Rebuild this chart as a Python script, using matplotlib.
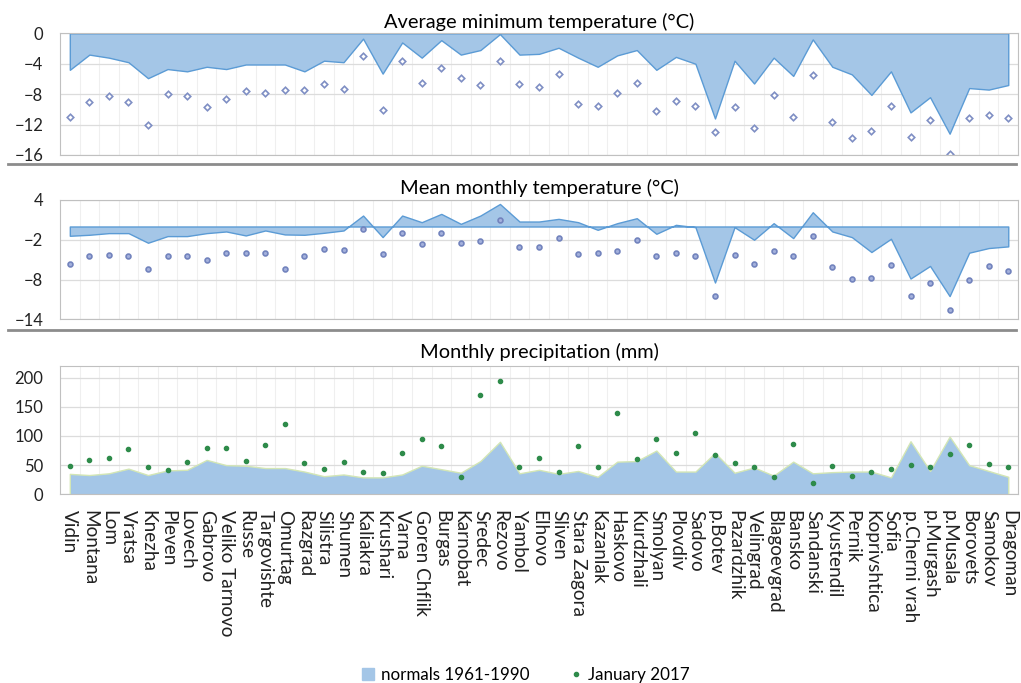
import matplotlib.pyplot as plt
import matplotlib.lines as mlines
import matplotlib.patches as mpatches
import numpy as np

plt.rcParams['font.family'] = ['Lato', 'DejaVu Sans']

stations = ['Vidin', 'Montana', 'Lom', 'Vratsa', 'Knezha', 'Pleven', 'Lovech', 'Gabrovo',
            'Veliko Tarnovo', 'Russe', 'Targovishte', 'Omurtag', 'Razgrad', 'Silistra', 'Shumen',
            'Kaliakra', 'Krushari', 'Varna', 'Goren Chflik', 'Burgas', 'Karnobat', 'Sredec',
            'Rezovo', 'Yambol', 'Elhovo', 'Sliven', 'Stara Zagora', 'Kazanlak', 'Haskovo',
            'Kurdzhali', 'Smolyan', 'Plovdiv', 'Sadovo', 'p.Botev', 'Pazardzhik', 'Velingrad',
            'Blagoevgrad', 'Bansko', 'Sandanski', 'Kyustendil', 'Pernik', 'Koprivshtica', 'Sofia',
            'p.Cherni vrah', 'p.Murgash', 'p.Musala', 'Borovets', 'Samokov', 'Dragoman']

# average minimum temperature
tmin_norm = [-4.8, -2.8, -3.2, -3.8, -5.9, -4.7, -5.0, -4.4, -4.7, -4.1, -4.1, -4.1, -5.0,
             -3.6, -3.8, -0.7, -5.3, -1.2, -3.2, -0.9, -2.8, -2.2, -0.1, -2.8, -2.7, -1.9,
             -3.2, -4.4, -2.9, -2.2, -4.8, -3.1, -4.0, -11.2, -3.6, -6.6, -3.2, -5.6, -0.8,
             -4.4, -5.4, -8.1, -5.0, -10.4, -8.4, -13.2, -7.2, -7.4, -6.8]
tmin_2017 = [-11.0, -9.0, -8.2, -9.0, -12.0, -8.0, -8.2, -9.7, -8.6, -7.6, -7.9, -7.4, -7.5,
             -6.7, -7.3, -3.0, -10.1, -3.6, -6.5, -4.5, -5.9, -6.8, -3.7, -6.7, -7.0, -5.3,
             -9.3, -9.6, -7.9, -6.5, -10.2, -8.9, -9.5, -13.0, -9.7, -12.4, -8.1, -11.0, -5.5,
             -11.7, -13.8, -12.8, -9.6, -13.6, -11.4, -15.9, -11.1, -10.7, -11.2]

# mean monthly temperature
tmean_norm = [-1.4, -1.25, -1.0, -1.0, -2.45, -1.45, -1.45, -1.0, -0.75, -1.35, -0.6, -1.2,
              -1.25, -0.95, -0.6, 1.65, -1.6, 1.65, 0.65, 1.9, 0.4, 1.65, 3.4, 0.75, 0.75,
              1.15, 0.65, -0.5, 0.5, 1.25, -1.1, 0.25, -0.1, -8.45, -0.1, -2.0, 0.5, -1.75,
              2.15, -0.75, -1.6, -3.85, -1.85, -7.85, -5.95, -10.5, -3.95, -3.25, -3.0]
tmean_2017 = [-5.6, -4.5, -4.35, -4.5, -6.35, -4.5, -4.5, -5.1, -4.0, -4.0, -4.0, -6.35, -4.5,
              -3.35, -3.5, -0.45, -4.2, -1.0, -2.7, -0.95, -2.45, -2.25, 1.0, -3.1, -3.1,
              -1.75, -4.2, -4.0, -3.75, -2.0, -4.5, -4.0, -4.5, -10.45, -4.25, -5.6, -3.75,
              -4.5, -1.5, -6.1, -7.85, -7.75, -5.75, -10.45, -8.45, -12.6, -8.1, -5.95, -6.7]

# monthly precipitation
prec_norm = [35, 33, 36, 44, 33, 41, 42, 59, 50, 49, 45, 45, 39, 31, 34, 29, 29, 34, 49, 43,
             37, 57, 90, 36, 42, 35, 40, 30, 56, 57, 75, 39, 39, 71, 37, 46, 32, 56, 36, 38,
             39, 39, 29, 91, 40, 99, 50, 40, 30]
prec_2017 = [49, 59, 62, 77, 46, 41, 56, 79, 80, 57, 85, 120, 53, 43, 55, 39, 36, 70, 94, 82,
             29, 171, 195, 46, 62, 39, 83, 46, 140, 61, 94, 71, 105, 67, 53, 47, 30, 86, 19,
             49, 31, 38, 44, 51, 47, 69, 85, 52, 46]

x = np.arange(len(stations))
fill_c = '#a4c6e7'

fig = plt.figure(figsize=(10.21, 6.83), dpi=100)
left, width = 0.0588, 0.9383
ax1 = fig.add_axes([left, 0.7731, width, 0.1781])
ax2 = fig.add_axes([left, 0.5325, width, 0.1747])
ax3 = fig.add_axes([left, 0.2763, width, 0.1878])


def style(ax, ticks, lims):
    ax.set_xlim(-0.5, len(stations) - 0.5)
    ax.set_ylim(*lims)
    ax.set_yticks(ticks)
    ax.set_xticks(x + 0.5, minor=True)
    ax.set_xticks(x)
    ax.grid(axis='y', color='#dcdcdc', lw=0.9)
    ax.grid(axis='x', which='minor', color='#efefef', lw=0.8)
    ax.set_axisbelow(True)
    for s in ax.spines.values():
        s.set_color('#c0c0c0')
    ax.tick_params(length=0, which='both', labelsize=12, colors='#222222')
    ax.tick_params(axis='y', pad=12)


ax1.fill_between(x, 0, tmin_norm, color=fill_c, edgecolor='#5b9bd5', lw=1)
ax1.plot(x, tmin_2017, 'D', ms=3.3, mfc='white', mec='#7f8fc4', mew=1.2, ls='none')
style(ax1, [0, -4, -8, -12, -16], (-16, 0))
ax1.set_xticklabels([])
t1 = ax1.set_title('Average minimum temperature (°C)', fontsize=12.5, pad=4)

ax2.fill_between(x, 0, tmean_norm, color=fill_c, edgecolor='#5b9bd5', lw=1)
ax2.plot(x, tmean_2017, 'o', ms=3.5, mfc='#a3b0dc', mec='#7283bd', mew=1.2, ls='none')
style(ax2, [4, -2, -8, -14], (-14, 4))
ax2.set_xticklabels([])
t2 = ax2.set_title('Mean monthly temperature (°C)', fontsize=12.5, pad=4)

ax3.fill_between(x, 0, prec_norm, color=fill_c, edgecolor='#d3e6b5', lw=1)
ax3.plot(x, prec_2017, 'o', ms=3, color='#2e8b4a', ls='none')
style(ax3, [0, 50, 100, 150, 200], (0, 220))
ax3.set_xticklabels(stations, rotation=-90, fontsize=12.5, va='top', ha='center')
ax3.tick_params(axis='x', pad=11)
t3 = ax3.set_title('Monthly precipitation (mm)', fontsize=12.5, pad=6)

# separators between the panels
for yy in [0.760, 0.517]:
    fig.add_artist(mlines.Line2D([0.008, 0.995], [yy, yy], color='#8c8c8c', lw=2))

handles = [mpatches.Patch(color=fill_c, label='normals 1961-1990'),
           mlines.Line2D([], [], marker='o', ms=3, color='#2e8b4a', ls='none', label='January 2017')]
leg = fig.legend(handles=handles, loc='center', bbox_to_anchor=(0.515, 0.012), ncol=2,
                 frameon=False, fontsize=11.5, handlelength=0.8, handleheight=0.8,
                 columnspacing=2.5, handletextpad=0.4)

# size the text like the original: title ~313 px wide, "Veliko Tarnovo" ~127 px long,
# legend entry ~149 px wide
fig.canvas.draw()
r = fig.canvas.get_renderer()
k_title = 313 / t1.get_window_extent(r).width
for t in (t1, t2, t3):
    t.set_fontsize(12.5 * k_title)
k_lab = 127 / ax3.get_xticklabels()[8].get_window_extent(r).height
for t in ax3.get_xticklabels():
    t.set_fontsize(12.5 * k_lab)
k_leg = 149 / leg.get_texts()[0].get_window_extent(r).width
for t in leg.get_texts():
    t.set_fontsize(11.5 * k_leg)

fig.savefig('out.png', dpi=100)
